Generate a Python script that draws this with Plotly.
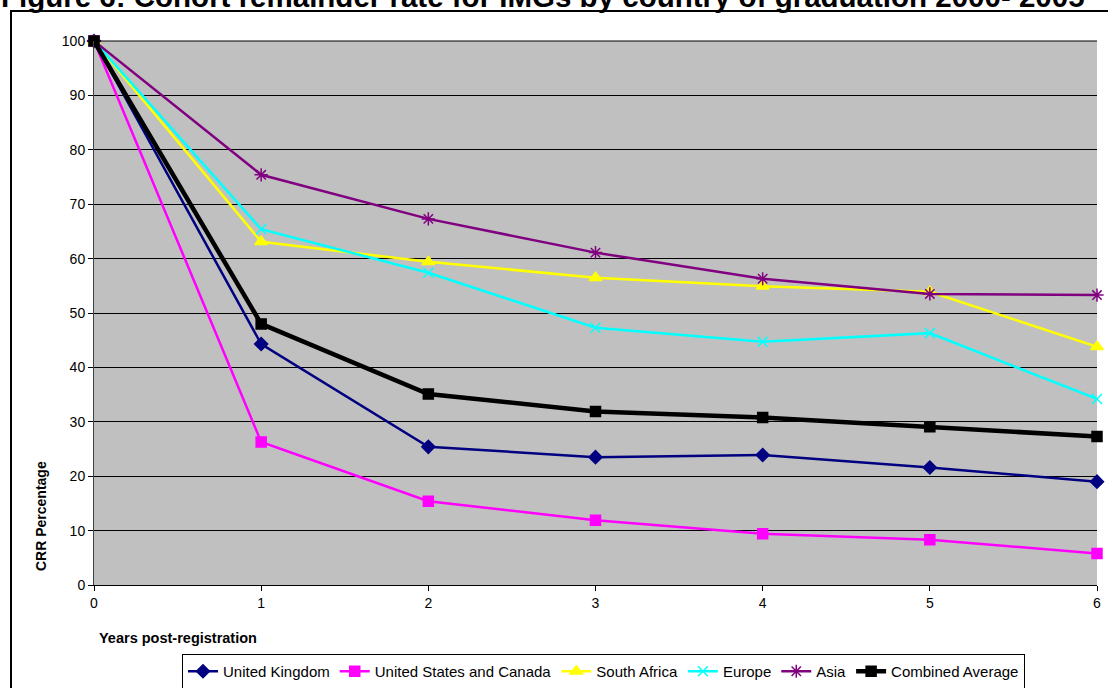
import plotly.graph_objects as go

years = [0, 1, 2, 3, 4, 5, 6]
united_kingdom = [100, 44.3, 25.4, 23.5, 23.9, 21.6, 19.0]
us_canada = [100, 26.3, 15.4, 11.9, 9.4, 8.3, 5.8]
south_africa = [100, 63.1, 59.4, 56.5, 54.9, 53.9, 43.8]
europe = [100, 65.4, 57.4, 47.3, 44.7, 46.3, 34.2]
asia = [100, 75.4, 67.3, 61.1, 56.3, 53.5, 53.3]
combined = [100, 48.0, 35.1, 31.9, 30.8, 29.1, 27.3]

series = [
    ("United Kingdom", united_kingdom, "#000080", "diamond", 10, 2.5),
    ("United States and Canada", us_canada, "#FF00FF", "square", 10, 2.5),
    ("South Africa", south_africa, "#FFFF00", "triangle-up", 11, 2.5),
    ("Europe", europe, "#00FFFF", "x-thin-open", 10, 2.5),
    ("Asia", asia, "#800080", "asterisk-open", 11, 2.5),
    ("Combined Average", combined, "#000000", "square", 10, 4.5),
]

FONT = "Liberation Sans, Arial, sans-serif"

fig = go.Figure()
for name, vals, color, sym, size, lw in series:
    fig.add_trace(go.Scatter(
        x=years, y=vals, name=name, mode="lines+markers",
        line=dict(color=color, width=lw),
        marker=dict(symbol=sym, size=size, color=color,
                    line=dict(color=color, width=1.5)),
        cliponaxis=False,
    ))

W, H = 1108, 688
L, R, T, B = 94, 1097, 41, 585
pw, ph = R - L, B - T


def px(x):
    return (x - L) / pw


def py(y):
    return (B - y) / ph


fig.update_layout(
    width=W, height=H,
    margin=dict(l=L, r=W - R, t=T, b=H - B, pad=0, autoexpand=False),
    paper_bgcolor="white",
    plot_bgcolor="#C0C0C0",
    font=dict(family=FONT, size=14, color="black"),
    showlegend=True,
    legend=dict(
        orientation="h", x=px((181 + 1026) / 2), xanchor="center",
        y=py(654), yanchor="top",
        bgcolor="white", bordercolor="black", borderwidth=1,
        font=dict(family=FONT, size=15, color="black"),
        itemwidth=30, tracegroupgap=0,
    ),
    xaxis=dict(
        range=[0, 6], tickmode="array", tickvals=years,
        ticktext=[str(v) for v in years],
        showgrid=False, zeroline=False, automargin=False,
        showline=True, linecolor="black", linewidth=1,
        ticks="outside", ticklen=5, tickcolor="black", tickwidth=1,
        tickfont=dict(family=FONT, size=14, color="black"),
        fixedrange=True,
    ),
    yaxis=dict(
        range=[0, 100], tickmode="array", tickvals=list(range(0, 101, 10)),
        showgrid=True, gridcolor="black", gridwidth=1,
        zeroline=False, automargin=False,
        showline=True, linecolor="#404040", linewidth=1,
        ticks="outside", ticklen=5, tickcolor="black", tickwidth=1,
        tickfont=dict(family=FONT, size=14, color="black"),
        fixedrange=True,
    ),
    shapes=[
        dict(type="line", xref="paper", yref="paper", x0=0, x1=1, y0=1, y1=1,
             line=dict(color="black", width=1), layer="above"),
        dict(type="rect", xref="paper", yref="paper",
             x0=px(11), x1=px(1125), y0=py(705), y1=py(11),
             line=dict(color="black", width=2), fillcolor="rgba(0,0,0,0)"),
    ],
    annotations=[
        dict(text="<b>Figure 6: Cohort remainder rate for IMGs by country of graduation 2000- 2005</b>",
             xref="paper", yref="paper", x=px(-1), y=py(15),
             xanchor="left", yanchor="bottom", showarrow=False,
             font=dict(family=FONT, size=29.5, color="black")),
        dict(text="<b>Years post-registration</b>",
             xref="paper", yref="paper", x=px(97), y=py(638),
             xanchor="left", yanchor="middle", showarrow=False,
             font=dict(family=FONT, size=14.5, color="black")),
        dict(text="<b>CRR Percentage</b>",
             xref="paper", yref="paper", x=px(41), y=py(516),
             xanchor="center", yanchor="middle", showarrow=False, textangle=-90,
             font=dict(family=FONT, size=14, color="black")),
    ],
)

fig.write_html(
    "out.html",
    config={"displayModeBar": False},
    post_script="document.body.style.margin='0';document.body.style.overflow='hidden';",
)
